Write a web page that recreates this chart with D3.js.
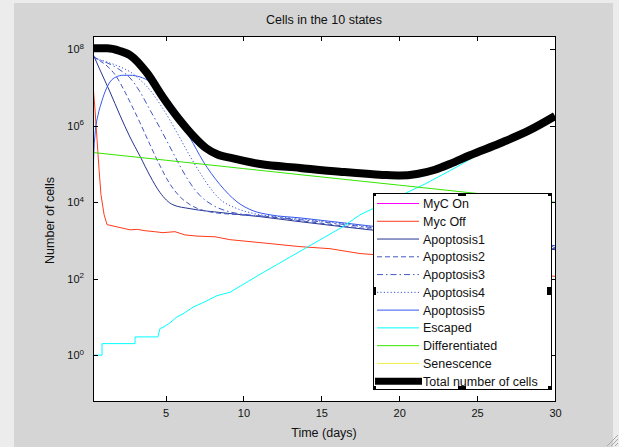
<!DOCTYPE html>
<html>
<head>
<meta charset="utf-8">
<script src="https://cdn.jsdelivr.net/npm/d3@7"></script>
<style>
  html, body { margin: 0; padding: 0; background: #ececec; }
  svg { display: block; font-family: "Liberation Sans", Arial, sans-serif; }
</style>
</head>
<body>
<div id="chart"></div>
<script>
// [time (days), number of cells]
const mycOn = []; // not visible in the plot
const mycOff = [
  [0.34, 1.2e7], [0.47, 2.6e6], [0.60, 4.3e5], [0.73, 7.1e4], [0.85, 1.6e4], [1.05, 4.8e3],
  [1.24, 2.6e3], [1.43, 2.5e3], [2.71, 1.9e3], [3.2, 1.95e3], [3.68, 1.8e3], [4.3, 1.7e3],
  [4.83, 1.6e3], [5.6, 1.7e3], [6.24, 1.4e3], [7.02, 1.3e3], [8.17, 1.25e3], [9.13, 1.05e3],
  [11.06, 880], [13.63, 690], [15.56, 610], [17.48, 455], [20.04, 380], [23.25, 236],
  [26.47, 175], [30, 115]
];
const apoptosis1 = [
  [0.34, 7.5e7], [0.79, 2.9e7], [1.43, 7.7e6], [2.07, 1.9e6], [2.71, 5.1e5], [3.36, 1.6e5],
  [4.00, 4.9e4], [4.64, 1.8e4], [5.47, 8.6e3], [6.57, 6.8e3], [8.68, 5.3e3], [11.06, 4.2e3],
  [13.63, 3.1e3], [18.12, 1.9e3], [23.90, 1.05e3], [30, 575]
];
const apoptosis2 = [
  [0.34, 6.7e7], [0.79, 5.0e7], [1.30, 3.5e7], [1.82, 2.0e7], [2.33, 8.6e6], [2.84, 3.3e6],
  [3.36, 1.2e6], [4.00, 3.2e5], [4.64, 9.0e4], [5.28, 3.0e4], [5.92, 1.4e4], [6.69, 8.1e3],
  [7.85, 5.6e3], [9.78, 4.7e3], [11.70, 4.2e3], [13.63, 3.3e3], [18.12, 2.0e3], [23.90, 1.1e3],
  [30, 610]
];
const apoptosis3 = [
  [0.34, 6.3e7], [0.79, 5.3e7], [1.43, 4.1e7], [2.07, 2.9e7], [2.71, 1.8e7], [3.36, 7.7e6],
  [4.00, 2.6e6], [4.64, 8.8e5], [5.28, 2.8e5], [5.92, 9.0e4], [6.57, 3.2e4], [7.21, 1.5e4],
  [7.98, 8.6e3], [9.13, 5.6e3], [11.06, 4.4e3], [13.63, 3.5e3], [18.12, 2.2e3], [23.90, 1.18e3],
  [30, 650]
];
const apoptosis4 = [
  [0.34, 5.9e7], [0.79, 5.3e7], [1.43, 4.4e7], [2.07, 3.5e7], [2.71, 2.6e7], [3.36, 1.6e7],
  [4.00, 8.6e6], [4.64, 3.7e6], [5.28, 1.4e6], [5.92, 4.8e5], [6.57, 1.6e5], [7.21, 5.9e4],
  [7.85, 2.4e4], [8.49, 1.2e4], [9.45, 7.2e3], [10.74, 5.0e3], [12.34, 4.2e3], [13.63, 3.7e3],
  [18.12, 2.3e3], [23.90, 1.25e3], [30, 690]
];
const apoptosis5 = [
  [0.36, 1.0e4], [0.38, 1.3e5], [0.47, 5.8e5], [0.66, 1.9e6], [0.85, 3.7e6], [1.11, 7.7e6],
  [1.43, 1.4e7], [1.82, 1.9e7], [2.27, 2.1e7], [2.71, 2.1e7], [3.36, 1.9e7], [4.00, 1.4e7],
  [4.83, 5.3e6], [5.60, 1.8e6], [6.57, 4.8e5], [7.40, 1.2e5], [8.49, 2.9e4], [9.58, 1.03e4],
  [10.61, 6.0e3], [11.70, 4.7e3], [13.63, 3.9e3], [18.12, 2.4e3], [23.90, 1.33e3], [30, 730]
];
const escaped = [
  [0.34, 1], [0.92, 1], [0.92, 2], [3.04, 2], [3.04, 3], [4.51, 3], [4.64, 5], [4.83, 5.3],
  [5.28, 7], [5.73, 10], [6.12, 12], [6.76, 18], [7.53, 25], [8.30, 36], [9.13, 44],
  [11.06, 130], [13.63, 520], [16.39, 2300], [17.48, 4700], [21.65, 3.0e4], [23.70, 8.4e4],
  [25.18, 1.9e5], [27.10, 4.2e5], [28.39, 7.1e5], [30, 1.66e6]
];
const differentiated = [
  [0.34, 2.0e5], [5, 1.26e5], [10, 7.6e4], [15, 4.6e4], [20, 2.8e4], [25, 1.7e4], [30, 1.0e4]
];
const senescence = []; // stays at zero, nothing drawn on a log axis
const total = [
  [0.34, 1.07e8], [1.24, 1.07e8], [2.07, 9.1e7], [2.71, 7.1e7], [3.81, 2.4e7], [4.83, 5.6e6],
  [5.92, 1.4e6], [7.02, 4.3e5], [7.6, 2.6e5], [8.30, 1.8e5], [9.33, 1.4e5], [11.06, 1.0e5],
  [13.63, 7.9e4], [16.19, 6.3e4], [18.95, 5.2e4], [20.04, 5.0e4], [21.14, 5.5e4], [22.29, 7.1e4],
  [23.25, 1.0e5], [24.54, 1.7e5], [26.47, 3.5e5], [28.4, 7.8e5], [30, 1.8e6]
];

const seriesNames = ["MyC On", "Myc Off", "Apoptosis1", "Apoptosis2", "Apoptosis3", "Apoptosis4",
  "Apoptosis5", "Escaped", "Differentiated", "Senescence", "Total number of cells"];
const seriesData = [mycOn, mycOff, apoptosis1, apoptosis2, apoptosis3, apoptosis4,
  apoptosis5, escaped, differentiated, senescence, total];

const xTicks = [5, 10, 15, 20, 25, 30];
const yTicks = [1e0, 1e2, 1e4, 1e6, 1e8];
const xDomain = [0.34, 30];
const yDomain = [Math.pow(10, -1.2), Math.pow(10, 8.35)];

// styles
const colors = ["#ff00ff", "#ff3a1a", "#26358f", "#4557c4", "#4055c8", "#3c55d6",
  "#3559ee", "#00ffff", "#33e600", "#eeee44", "#000000"];
const dashes = [null, null, null, "5,3", "6,3,1.5,3", "1.2,2.2", null, null, null, null, null];
const widths = [1, 1, 1, 1, 1, 1, 1, 1, 1, 1, 8];
const curves = [d3.curveLinear, d3.curveLinear, d3.curveMonotoneX, d3.curveMonotoneX,
  d3.curveMonotoneX, d3.curveMonotoneX, d3.curveMonotoneX, d3.curveLinear,
  d3.curveLinear, d3.curveLinear, d3.curveMonotoneX];

const width = 619;
const height = 447;
const margin = { top: 36, right: 64, bottom: 46, left: 93 };
const innerW = width - margin.left - margin.right;
const innerH = height - margin.top - margin.bottom;

const svg = d3.select("#chart").append("svg")
  .attr("width", width)
  .attr("height", height);

// figure window
svg.append("rect").attr("width", width).attr("height", height).attr("fill", "#ececec");
svg.append("rect").attr("x", 14).attr("y", 3).attr("width", 599).attr("height", 444)
  .attr("fill", "#d5d5d5");
[0, 4, 8].forEach(o => {
  svg.append("line")
    .attr("x1", 607 + o).attr("y1", 446).attr("x2", 618).attr("y2", 435 + o)
    .attr("stroke", "#a8a8a8");
});

const x = d3.scaleLinear().domain(xDomain).range([0, innerW]);
const y = d3.scaleLog().domain(yDomain).range([innerH, 0]);

const g = svg.append("g").attr("transform", `translate(${margin.left},${margin.top})`);

g.append("rect").attr("width", innerW).attr("height", innerH).attr("fill", "#fff");

g.append("clipPath").attr("id", "clip")
  .append("rect").attr("width", innerW).attr("height", innerH);

const plot = g.append("g").attr("clip-path", "url(#clip)");

seriesData.forEach((data, i) => {
  const line = d3.line()
    .defined(d => d[1] > 0)
    .curve(curves[i])
    .x(d => x(d[0]))
    .y(d => y(d[1]));
  plot.append("path")
    .datum(data)
    .attr("fill", "none")
    .attr("stroke", colors[i])
    .attr("stroke-width", widths[i])
    .attr("stroke-dasharray", dashes[i])
    .attr("d", line);
});

// axes, ticks pointing inwards on all four sides
const styleAxis = sel => {
  sel.select(".domain").remove();
  sel.selectAll(".tick line").attr("stroke", "#000").attr("shape-rendering", "crispEdges");
  sel.selectAll(".tick text").attr("fill", "#111").attr("font-size", 11)
    .attr("font-family", "Liberation Sans, Arial, sans-serif");
};

g.append("g")
  .attr("transform", `translate(0,${innerH})`)
  .call(d3.axisBottom(x).tickValues(xTicks).tickSize(-5).tickPadding(8))
  .call(styleAxis);

g.append("g")
  .call(d3.axisTop(x).tickValues(xTicks).tickSize(-5).tickFormat(""))
  .call(styleAxis);

g.append("g")
  .attr("transform", `translate(${innerW},0)`)
  .call(d3.axisRight(y).tickValues(yTicks).tickSize(-5).tickFormat(""))
  .call(styleAxis);

const yAxis = g.append("g")
  .call(d3.axisLeft(y).tickValues(yTicks).tickSize(-5).tickPadding(9).tickFormat(""))
  .call(styleAxis);

yAxis.selectAll(".tick text").each(function (d) {
  const t = d3.select(this);
  t.append("tspan").text("10");
  t.append("tspan")
    .attr("dy", "-0.55em")
    .attr("font-size", 8)
    .text(Math.round(Math.log10(d)));
});

g.append("rect")
  .attr("width", innerW)
  .attr("height", innerH)
  .attr("fill", "none")
  .attr("stroke", "#000")
  .attr("shape-rendering", "crispEdges");

// labels
svg.append("text")
  .attr("x", margin.left + innerW / 2)
  .attr("y", 24)
  .attr("text-anchor", "middle")
  .attr("font-size", 12.5)
  .attr("fill", "#111")
  .text("Cells in the 10 states");

svg.append("text")
  .attr("x", margin.left + innerW / 2)
  .attr("y", 437)
  .attr("text-anchor", "middle")
  .attr("font-size", 12.5)
  .attr("fill", "#111")
  .text("Time (days)");

svg.append("text")
  .attr("transform", `translate(54,${margin.top + innerH / 2 + 2}) rotate(-90)`)
  .attr("text-anchor", "middle")
  .attr("font-size", 12.5)
  .attr("fill", "#111")
  .text("Number of cells");

// legend
const legW = 178;
const legH = 196;
const legend = g.append("g").attr("transform", `translate(${373 - margin.left},${193 - margin.top})`);

legend.append("rect")
  .attr("width", legW)
  .attr("height", legH)
  .attr("fill", "#fff")
  .attr("stroke", "#000")
  .attr("shape-rendering", "crispEdges");

seriesNames.forEach((name, i) => {
  const row = legend.append("g").attr("transform", `translate(0,${10.5 + i * 17.77})`);
  const thick = widths[i] > 1;
  row.append("line")
    .attr("x1", thick ? 2 : 4)
    .attr("x2", thick ? 49 : 46)
    .attr("stroke", colors[i])
    .attr("stroke-width", thick ? 7 : widths[i])
    .attr("stroke-dasharray", dashes[i]);
  row.append("text")
    .attr("x", 50)
    .attr("dy", "0.36em")
    .attr("font-size", 12.5)
    .attr("fill", "#111")
    .text(name);
});

// selection handles
const handles = [
  [0, 0, 3, 3], [legW - 3, 0, 3, 3], [0, legH - 3, 3, 3], [legW - 3, legH - 3, 3, 3],
  [legW / 2 - 4, 0, 8, 3], [legW / 2 - 4, legH - 3, 8, 3],
  [0, legH / 2 - 4, 3, 8], [legW - 4, legH / 2 - 4, 4, 8]
];
legend.selectAll(".handle")
  .data(handles)
  .join("rect")
  .attr("class", "handle")
  .attr("x", d => d[0])
  .attr("y", d => d[1])
  .attr("width", d => d[2])
  .attr("height", d => d[3])
  .attr("fill", "#000");
</script>
</body>
</html>
